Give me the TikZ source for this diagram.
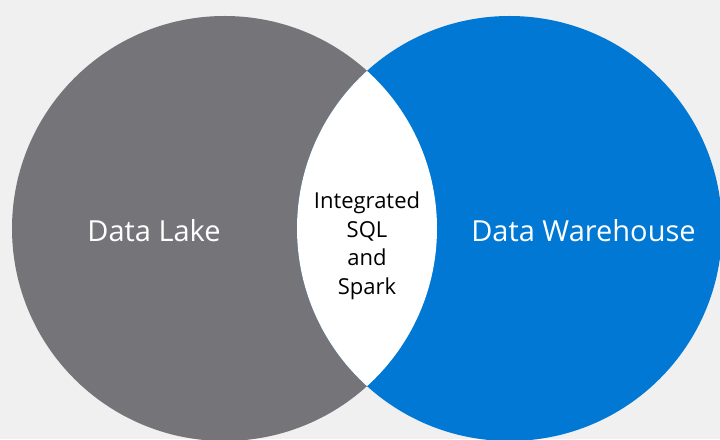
\documentclass[tikz,border=0pt]{standalone}
\usepackage{fontspec}
\setmainfont{Open Sans}
\usepackage{tikz}

\definecolor{lakegray}{HTML}{757478}
\definecolor{dwblue}{HTML}{0078D4}
\definecolor{bggray}{HTML}{F0F0F0}

\begin{document}
\begin{tikzpicture}[x=1pt, y=1pt,
    biglabel/.style={text=white, inner sep=0pt, font=\fontsize{29}{35}\selectfont},
    midlabel/.style={text=black, align=center, inner sep=0pt, font=\fontsize{22}{28.5}\selectfont}]
    \fill[bggray] (0, 0) rectangle (720, 439);
    \useasboundingbox (0, 0) rectangle (720, 439);

    \coordinate (lake) at (224.5, 210.5);
    \coordinate (dw) at (509.5, 210.5);
    \fill[lakegray] (lake) circle (212.5);
    \fill[dwblue] (dw) circle (212.5);
    \begin{scope}
      \clip (lake) circle (212.5);
      \fill[white] (dw) circle (212.5);
    \end{scope}

    \node[biglabel, anchor=base] (lakelabel) at (154, 197) {Data Lake};
    \node[biglabel, anchor=base] (dwlabel) at (583.5, 197) {Data Warehouse};
    \node[midlabel] (both) at (367, 193) {Integrated\\SQL\\and\\Spark};
\end{tikzpicture}
\end{document}
